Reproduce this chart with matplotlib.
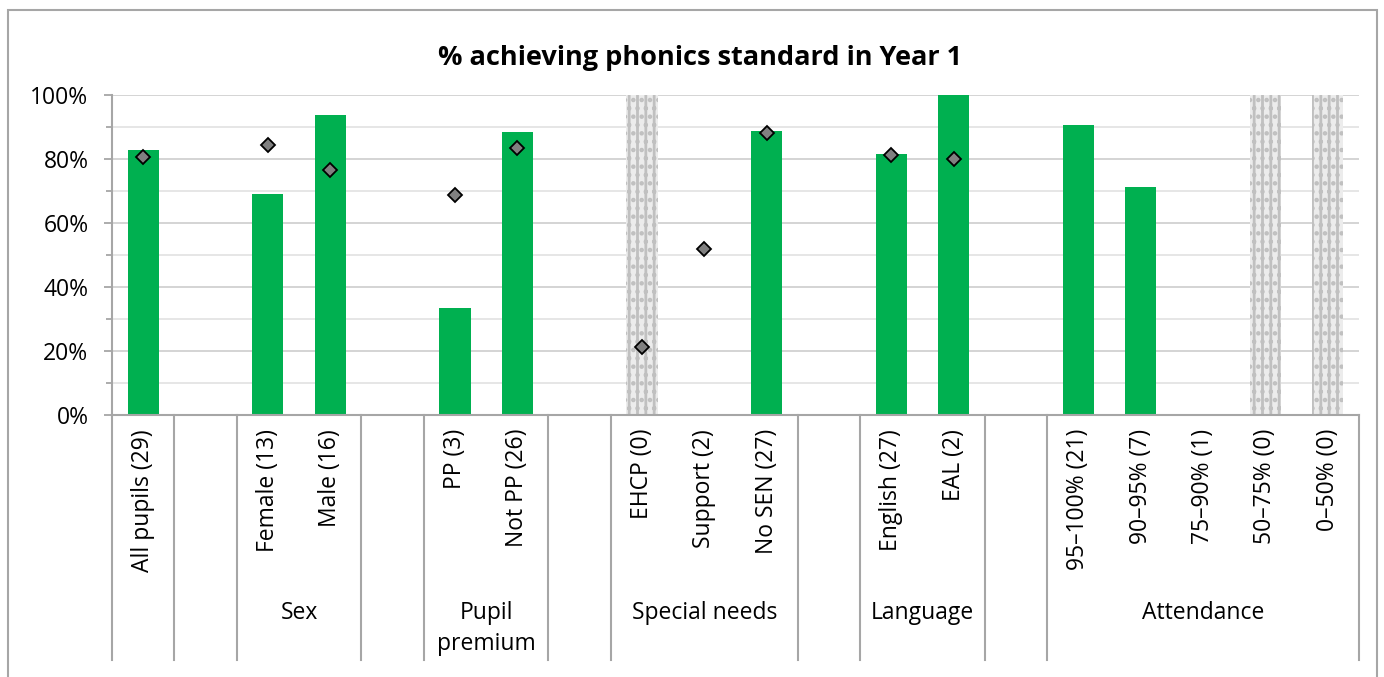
import numpy as np
import matplotlib.pyplot as plt
from matplotlib.patches import Rectangle
from matplotlib.ticker import MultipleLocator, PercentFormatter

# groups along the x axis (a one-slot gap follows every group but the last)
groups = ["", "Sex", "Pupil\npremium", "Special needs", "Language", "Attendance"]
group_sizes = [1, 2, 2, 3, 2, 5]

categories = ["All pupils", "Female", "Male", "PP", "Not PP", "EHCP", "Support",
              "No SEN", "English", "EAL", "95\u2013100%", "90\u201395%",
              "75\u201390%", "50\u201375%", "0\u201350%"]
pupils = [29, 13, 16, 3, 26, 0, 2, 27, 27, 2, 21, 7, 1, 0, 0]
school_pct = [82.8, 69.2, 93.8, 33.3, 88.5, np.nan, 0, 88.9, 81.5, 100,
              90.5, 71.4, 0, np.nan, np.nan]
national_pct = [80.5, 84.3, 76.7, 68.7, 83.5, 21.2, 51.8, 88.1, 81.4, 80.0,
                np.nan, np.nan, np.nan, np.nan, np.nan]

plt.rcParams["font.family"] = ["Open Sans", "DejaVu Sans"]
plt.rcParams["hatch.linewidth"] = 2.0

# slot positions
pos = []
bounds = [0]
slot = 0
for i, n in enumerate(group_sizes):
    pos += [slot + k + 0.5 for k in range(n)]
    slot += n
    bounds.append(slot)
    if i < len(group_sizes) - 1:
        slot += 1
        bounds.append(slot)
pos = np.array(pos)
nslots = slot

fig = plt.figure(figsize=(13.84, 6.77), dpi=100)
ax = fig.add_axes([112 / 1384, 1 - 415 / 677, (1359 - 112) / 1384, 320 / 677])

# chart border
fig.patches.append(Rectangle((8 / 1384, -0.05), 1369 / 1384, 1.05 - 10 / 677,
                             transform=fig.transFigure, fill=False,
                             edgecolor="#a6a6a6", linewidth=1.5))

fig.text(700 / 1384, 1 - 58 / 677, "% achieving phonics standard in Year 1",
         ha="center", va="center", fontsize=19.5, fontweight="bold")

# no pupils in group -> hatched column
empty = np.array(pupils) == 0
ax.bar(pos[empty], 100, width=0.5, color="#ececec", edgecolor="#c0c0c0",
       hatch="||..", linewidth=0, zorder=2)
ax.bar(pos, school_pct, width=0.5, color="#00b050", zorder=2)
ax.plot(pos, national_pct, linestyle="none", marker="D", markersize=6.8,
        markerfacecolor="#808080", markeredgecolor="black",
        markeredgewidth=1.3, zorder=3)

ax.set_xlim(0, nslots)
ax.set_ylim(0, 100)
ax.yaxis.set_major_locator(MultipleLocator(20))
ax.yaxis.set_minor_locator(MultipleLocator(10))
ax.yaxis.set_major_formatter(PercentFormatter(decimals=0))
ax.grid(axis="y", which="major", color="#d4d4d4", linewidth=1.4, zorder=0)
ax.grid(axis="y", which="minor", color="#e6e6e6", linewidth=1.4, zorder=0)
ax.set_axisbelow(True)

ax.set_xticks(pos)
ax.set_xticklabels([f"{c} ({n})" for c, n in zip(categories, pupils)],
                   rotation=90, fontsize=16.5)
ax.tick_params(axis="x", length=0, pad=10)
ax.tick_params(axis="y", which="major", length=6, width=1.3, color="#a6a6a6",
               labelsize=16.5, pad=11)
ax.tick_params(axis="y", which="minor", length=4.5, width=1.3, color="#a6a6a6")

for side in ["top", "right"]:
    ax.spines[side].set_visible(False)
for side in ["left", "bottom"]:
    ax.spines[side].set_color("#a6a6a6")
    ax.spines[side].set_linewidth(1.5)

# group dividers below the axis
trans = ax.get_xaxis_transform()
for b in bounds:
    ax.plot([b, b], [0, -245 / 320], color="#a6a6a6", linewidth=1.5,
            transform=trans, clip_on=False)

# group names
gstart = 0
for name, n in zip(groups, group_sizes):
    if name:
        ax.text(gstart + n / 2, -186 / 320, name, transform=trans,
                ha="center", va="top", fontsize=16.5, linespacing=1.4)
    gstart += n + 1

fig.savefig("out.png", dpi=100)
